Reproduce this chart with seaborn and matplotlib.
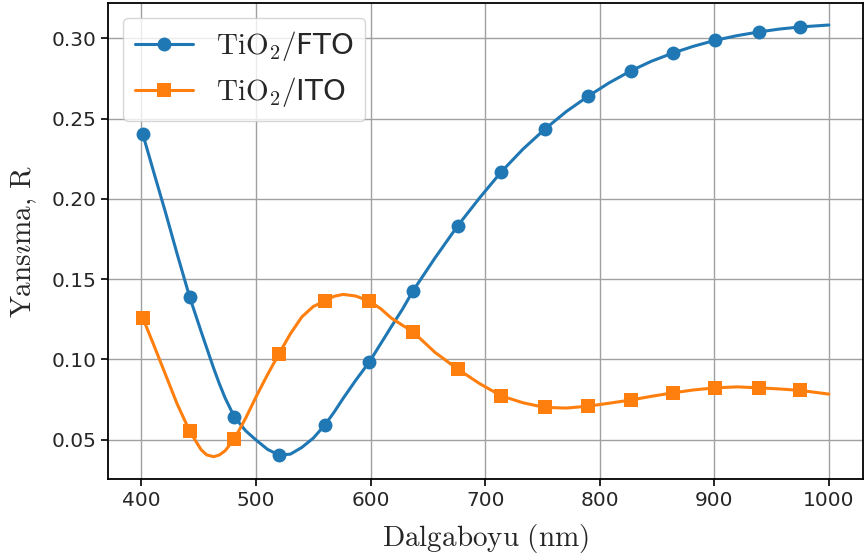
import matplotlib
matplotlib.use('Agg')
import matplotlib.pyplot as plt
import seaborn as sns

# Dalgaboyu (nm) - ortak x ekseni
wavelength = [401, 411, 421, 431, 442, 452, 457, 463, 468, 473, 481, 491, 500, 510, 520,
              530, 540, 550, 560, 568, 576, 587, 599, 609, 618, 628, 637, 656, 676, 695,
              714, 733, 752, 771, 790, 808, 827, 845, 864, 882, 901, 920, 939, 957, 975,
              1000]

# Yansima degerleri
r_fto = [0.2407, 0.2159, 0.1915, 0.1660, 0.1390, 0.1175, 0.1070, 0.0945, 0.0848, 0.0760,
         0.0643, 0.0555, 0.0498, 0.0440, 0.0404, 0.0410, 0.0452, 0.0510, 0.0591, 0.0670,
         0.0757, 0.0870, 0.0985, 0.1100, 0.1203, 0.1315, 0.1427, 0.1630, 0.1832, 0.2005,
         0.2168, 0.2310, 0.2434, 0.2545, 0.2640, 0.2722, 0.2797, 0.2857, 0.2909, 0.2951,
         0.2988, 0.3017, 0.3040, 0.3058, 0.3071, 0.3083]
r_ito = [0.1261, 0.1085, 0.0905, 0.0725, 0.0554, 0.0438, 0.0405, 0.0394, 0.0405, 0.0431,
         0.0504, 0.0635, 0.0767, 0.0905, 0.1035, 0.1160, 0.1265, 0.1330, 0.1363, 0.1393,
         0.1405, 0.1395, 0.1363, 0.1315, 0.1258, 0.1212, 0.1172, 0.1045, 0.0940, 0.0850,
         0.0773, 0.0730, 0.0701, 0.0697, 0.0709, 0.0727, 0.0747, 0.0770, 0.0792, 0.0810,
         0.0823, 0.0829, 0.0823, 0.0816, 0.0807, 0.0784]

# isaretcilerin gosterildigi noktalar
marker_idx = [0, 4, 10, 14, 18, 22, 26, 28, 30, 32, 34, 36, 38, 40, 42, 44]

labels = [r'$\mathrm{TiO_2/}$FTO', r'$\mathrm{TiO_2/}$ITO']

sns.set_style('ticks')
plt.rcParams['mathtext.fontset'] = 'cm'
plt.rcParams['font.family'] = ['DejaVu Sans']

fig = plt.figure(figsize=(8.64, 5.6), dpi=100)
ax = fig.add_axes([0.1253, 0.1446, 0.8738, 0.85])

sns.lineplot(x=wavelength, y=r_fto, ax=ax, color='#1f77b4', marker='o', markersize=10,
             markeredgewidth=0, markevery=marker_idx, linewidth=2.2, label=labels[0])
sns.lineplot(x=wavelength, y=r_ito, ax=ax, color='#ff7f0e', marker='s', markersize=9.5,
             markeredgewidth=0, markevery=marker_idx, linewidth=2.2, label=labels[1])

ax.set_xlim(371, 1030)
ax.set_ylim(0.0255, 0.322)
ax.set_xticks([400, 500, 600, 700, 800, 900, 1000])
ax.set_yticks([0.05, 0.10, 0.15, 0.20, 0.25, 0.30])
ax.set_yticklabels(['0.05', '0.10', '0.15', '0.20', '0.25', '0.30'])
ax.tick_params(labelsize=14.5, length=5, width=1.2, color='black')
ax.grid(True, color='#a0a0a0', linewidth=1)
for s in ax.spines.values():
    s.set_color('black')
    s.set_linewidth(1.3)

ax.set_xlabel(r'$\mathrm{Dalgaboyu\ (nm)}$', fontsize=21, labelpad=9)
ax.set_ylabel(r'$\mathrm{Yans\imath ma,\,R}$', fontsize=21, labelpad=9)

ax.legend(loc='upper left', fontsize=21, frameon=True, fancybox=True, framealpha=0.8,
          edgecolor='#cccccc', labelspacing=0.4)

fig.savefig('out.png', dpi=100)
